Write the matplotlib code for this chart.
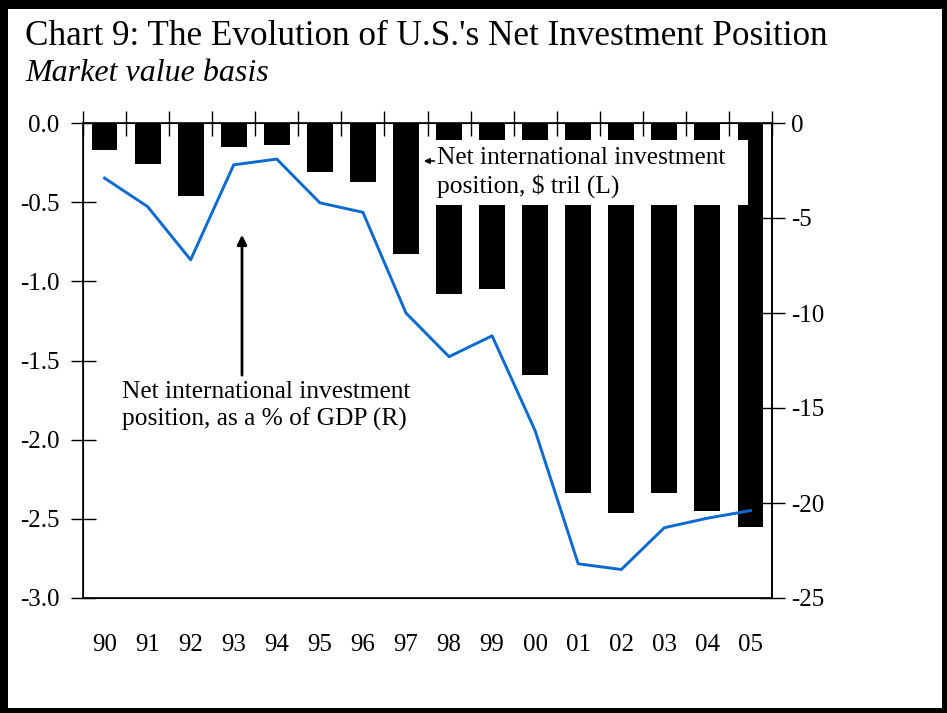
import numpy as np
import matplotlib
matplotlib.use("Agg")
import matplotlib.pyplot as plt
from matplotlib.patches import Rectangle

plt.rcParams['font.family'] = ['Liberation Serif', 'DejaVu Serif']
plt.rcParams['axes.unicode_minus'] = False

# data
years = ['90', '91', '92', '93', '94', '95', '96', '97',
         '98', '99', '00', '01', '02', '03', '04', '05']
nii_tril = [-0.17, -0.26, -0.46, -0.15, -0.14, -0.31, -0.37, -0.83,
            -1.08, -1.05, -1.59, -2.34, -2.46, -2.34, -2.45, -2.55]
nii_gdp = [-2.9, -4.4, -7.2, -2.2, -1.9, -4.2, -4.7, -10.0,
           -12.3, -11.2, -16.2, -23.2, -23.5, -21.3, -20.8, -20.4]
left_ticks = [0.0, -0.5, -1.0, -1.5, -2.0, -2.5, -3.0]
right_ticks = [0, -5, -10, -15, -20, -25]

W, H = 947, 713
fig = plt.figure(figsize=(W / 100, H / 100), dpi=100)

# thick black frame around the whole picture
for (x0, y0, w, h) in [(0, 0, 8, H), (0, H - 9, W, 9), (W - 5, 0, 5, H), (0, 0, W, 5)]:
    fig.add_artist(Rectangle((x0 / W, y0 / H), w / W, h / H,
                             transform=fig.transFigure, color='black', lw=0))

fig.text(25 / W, 1 - 45 / H, "Chart 9: The Evolution of U.S.'s Net Investment Position",
         fontsize=25.3, va='baseline', ha='left')
fig.text(25 / W, 1 - 81 / H, "Market value basis", fontsize=23, style='italic',
         va='baseline', ha='left')

ax = fig.add_axes([83 / W, 1 - 598 / H, (772 - 83) / W, (598 - 123) / H])
x = np.arange(len(years))
ax.bar(x, nii_tril, width=0.6, color='black', zorder=2)
ax.set_xlim(-0.5, len(years) - 0.5)
ax.set_ylim(-3.0, 0.0)
ax.set_yticks(left_ticks)
ax.set_yticklabels(['%.1f' % v for v in left_ticks])
ax.set_xticks(x)
ax.set_xticklabels(years)
ax.set_xticks(np.arange(-0.5, len(years), 1), minor=True)
ax.tick_params(axis='x', which='major', length=0, labelsize=18, pad=26)
ax.tick_params(axis='x', which='minor', top=True, bottom=False, direction='inout',
               length=18, width=1)
ax.tick_params(axis='y', direction='inout', length=18, width=1, labelsize=18, pad=8)
for s in ax.spines.values():
    s.set_linewidth(1.2)

ax2 = ax.twinx()
ax2.plot(x, nii_gdp, color='#0a6ad0', lw=2.1, zorder=3)
ax2.set_ylim(-25, 0)
ax2.set_yticks(right_ticks)
ax2.set_yticklabels([str(v) for v in right_ticks])
ax2.tick_params(axis='y', direction='inout', length=18, width=1, labelsize=18, pad=5)
ax2.spines['right'].set_linewidth(1.2)

# label for bars, white box covering part of the bars
ax2.text(437, H - 147, "Net international investment\nposition, $ tril (L)",
         transform=None, fontsize=18.3, va='top', ha='left', zorder=10,
         linespacing=1.25)
ax2.add_patch(Rectangle((420, H - 205), 328, 65, transform=None,
                        facecolor='white', edgecolor='none', zorder=9))
ax2.annotate("", xy=(421, H - 161), xytext=(437, H - 161),
             xycoords='figure pixels', textcoords='figure pixels',
             arrowprops=dict(arrowstyle='-|>', color='black', lw=1.2,
                             mutation_scale=8), zorder=11)

# label for the line
fig.text(122 / W, 1 - 381 / H, "Net international investment\nposition, as a % of GDP (R)",
         fontsize=18.3, va='top', ha='left', linespacing=1.25)
ax2.annotate("", xy=(242, H - 232), xytext=(242, H - 378),
             xycoords='figure pixels', textcoords='figure pixels',
             arrowprops=dict(arrowstyle='-|>', color='black', lw=2,
                             mutation_scale=14))

fig.savefig('out.png', dpi=100)
